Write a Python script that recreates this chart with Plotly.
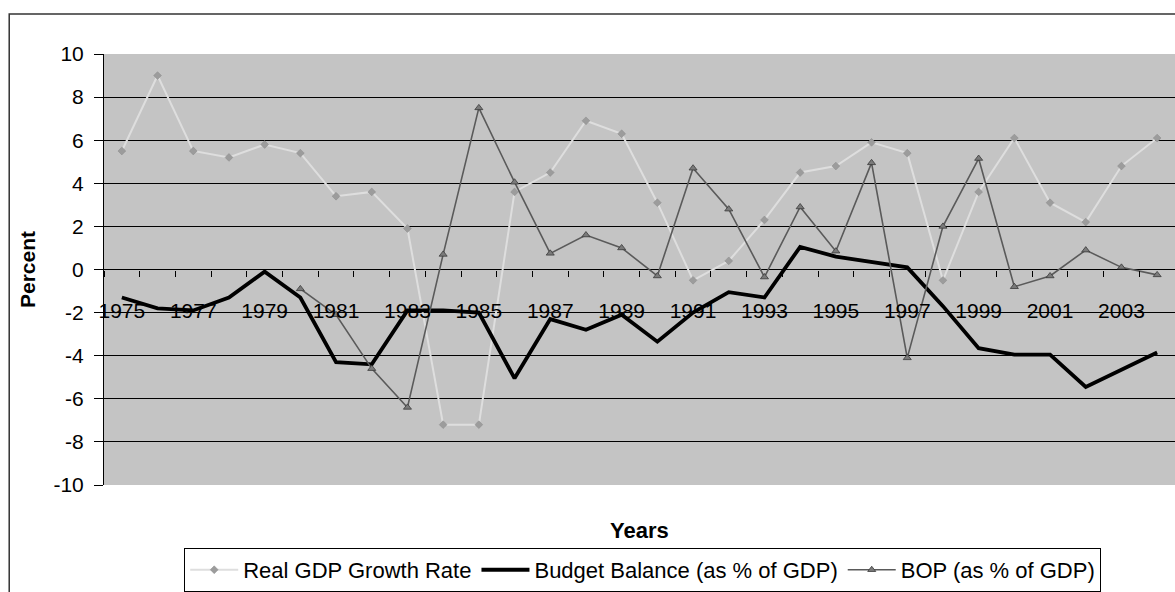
import plotly.graph_objects as go

# Years on the horizontal axis
years = list(range(1975, 2005))

# Real GDP growth rate (%)
gdp_growth = [5.5, 9.0, 5.5, 5.2, 5.8, 5.4, 3.4, 3.6, 1.9, -7.2, -7.2, 3.6,
              4.5, 6.9, 6.3, 3.1, -0.5, 0.4, 2.3, 4.5, 4.8, 5.9, 5.4, -0.5,
              3.6, 6.1, 3.1, 2.2, 4.8, 6.1]

# Budget balance (% of GDP)
budget_balance = [-1.3, -1.8, -1.9, -1.3, -0.1, -1.3, -4.3, -4.4, -1.9, -1.9,
                  -2.0, -5.05, -2.3, -2.8, -2.1, -3.35, -2.0, -1.05, -1.3, 1.05,
                  0.6, 0.35, 0.1, -1.7, -3.65, -3.95, -3.95, -5.45, -4.65, -3.85]

# Balance of payments (% of GDP), reported from 1980
bop_years = list(range(1980, 2005))
bop = [-0.9, -2.1, -4.6, -6.4, 0.7, 7.5, 4.05, 0.75, 1.6, 1.0, -0.3, 4.7, 2.8,
       -0.35, 2.9, 0.85, 4.95, -4.1, 2.0, 5.15, -0.8, -0.3, 0.9, 0.1, -0.25]

year_ticks = list(range(1975, 2005, 2))
y_ticks = list(range(-10, 11, 2))
y_tick_text = [str(v) for v in y_ticks]

font_family = "Liberation Sans, Arial, sans-serif"

fig = go.Figure()

fig.add_trace(go.Scatter(
    x=years, y=gdp_growth, name="Real GDP Growth Rate",
    mode="lines+markers",
    line=dict(color="#dedede", width=2),
    marker=dict(symbol="diamond", size=6, color="#9c9c9c",
                line=dict(color="#8a8a8a", width=0.5)),
))
fig.add_trace(go.Scatter(
    x=years, y=budget_balance, name="Budget Balance (as % of GDP)",
    mode="lines",
    line=dict(color="#000000", width=3.8),
))
fig.add_trace(go.Scatter(
    x=bop_years, y=bop, name="BOP (as % of GDP)",
    mode="lines+markers",
    line=dict(color="#5a5a5a", width=1.6),
    marker=dict(symbol="triangle-up", size=7, color="#7a7a7a",
                line=dict(color="#3a3a3a", width=0.8)),
))

fig.update_layout(
    width=1175, height=592,
    margin=dict(l=104, r=0, t=54, b=107),
    paper_bgcolor="#ffffff",
    plot_bgcolor="#c4c4c4",
    font=dict(family=font_family, size=21, color="#000000"),
    showlegend=True,
    legend=dict(
        orientation="h",
        x=0.503, xanchor="center",
        y=-0.146, yanchor="top",
        bgcolor="#ffffff",
        bordercolor="#000000", borderwidth=1,
        font=dict(size=22),
        itemwidth=48,
        tracegroupgap=0,
    ),
    xaxis=dict(
        range=[1974.5, 2004.5],
        tickmode="array", tickvals=year_ticks,
        ticks="", showgrid=False, zeroline=False,
        showline=False,
        anchor="free", position=0.5,
        tickfont=dict(size=21),
        ticklabelstandoff=26,
        minor=dict(tick0=1974.5, dtick=1, ticks="outside", ticklen=6,
                   tickcolor="#000000", tickwidth=1, showgrid=False),
    ),
    yaxis=dict(
        range=[-10, 10],
        tickmode="array", tickvals=y_ticks, ticktext=y_tick_text,
        showgrid=True, gridcolor="#000000", gridwidth=1,
        zeroline=True, zerolinecolor="#000000", zerolinewidth=1,
        showline=True, linecolor="#000000", linewidth=1,
        ticks="outside", ticklen=9, tickcolor="#000000",
        tickfont=dict(size=21),
        ticklabelstandoff=6,
        title=dict(text="<b>Percent</b>", font=dict(size=21), standoff=12),
    ),
    annotations=[
        dict(text="<b>Years</b>", x=0.5, xref="paper", y=-0.105, yref="paper",
             yanchor="middle", showarrow=False, font=dict(size=22)),
    ],
    shapes=[
        dict(type="rect", xref="paper", yref="paper",
             x0=-0.0885, x1=1.05, y0=-0.3, y1=1.093,
             line=dict(color="#333333", width=1.5), layer="below"),
    ],
)

fig.write_html("out.html")
